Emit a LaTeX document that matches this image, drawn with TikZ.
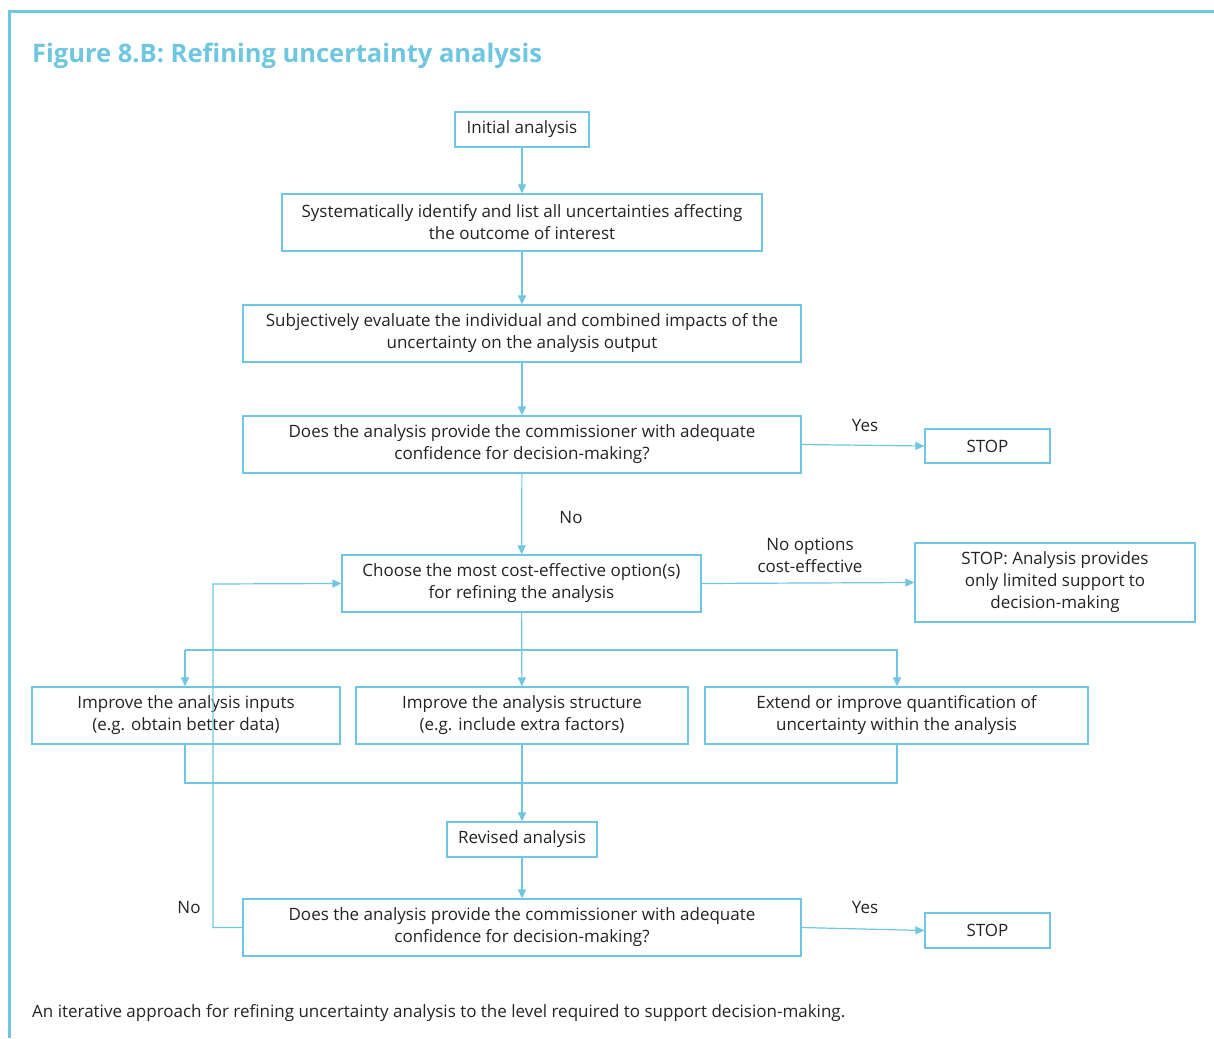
\documentclass[tikz,border=0pt]{standalone}
\usepackage{fontspec}
\setmainfont{Open Sans}
\usetikzlibrary{arrows.meta}
\definecolor{blu}{RGB}{110,198,224}
\definecolor{txt}{RGB}{35,35,35}
\begin{document}
\begin{tikzpicture}[x=1pt,y=-1pt,
  box/.style={draw=blu,line width=1.3pt,rectangle,inner sep=0pt,align=center,text=txt,
    font=\fontsize{17pt}{22pt}\selectfont},
  lbl/.style={text=txt,align=center,font=\fontsize{17pt}{22pt}\selectfont,inner sep=0pt},
  conn/.style={draw=blu,line width=1.2pt},
  arr/.style={conn,-{Triangle[length=9pt,width=8pt]}}]
\useasboundingbox (0,0) rectangle (1214,1038);
% frame
\draw[blu,line width=3pt] (1214,12) -- (9.5,12) -- (9.5,1038);
\node[anchor=west,text=blu,inner sep=0pt,font=\fontsize{25.5pt}{30pt}\selectfont\bfseries] (title) at (32,56) {Figure 8.B: Refining uncertainty analysis};
% boxes
\node[box,minimum width=134pt,minimum height=35pt] (init) at (522,129.5) {Initial analysis};
\node[box,minimum width=480pt,minimum height=57pt] (sys) at (522,222.5) {Systematically identify and list all uncertainties affecting\\the outcome of interest};
\node[box,minimum width=558pt,minimum height=57pt] (subj) at (522,333.5) {Subjectively evaluate the individual and combined impacts of the\\uncertainty on the analysis output};
\node[box,minimum width=558pt,minimum height=57pt] (q1) at (522,444.5) {Does the analysis provide the commissioner with adequate\\confidence for decision-making?};
\node[box,minimum width=125pt,minimum height=34pt] (stop1) at (987.5,446) {STOP};
\node[box,minimum width=359pt,minimum height=57pt] (choose) at (521.5,583.5) {Choose the most cost-effective option(s)\\for refining the analysis};
\node[box,minimum width=280pt,minimum height=79pt] (stop2) at (1055,582.5) {STOP: Analysis provides\\only limited support to\\decision-making};
\node[box,minimum width=308pt,minimum height=57pt] (inp) at (186,715.5) {Improve the analysis inputs\\(e.g. obtain better data)};
\node[box,minimum width=332pt,minimum height=57pt] (str) at (522,715.5) {Improve the analysis structure\\(e.g. include extra factors)};
\node[box,minimum width=383pt,minimum height=57pt] (ext) at (896.5,715.5) {Extend or improve quantification of\\uncertainty within the analysis};
\node[box,minimum width=150pt,minimum height=35pt] (rev) at (522,839.5) {Revised analysis};
\node[box,minimum width=558pt,minimum height=57pt] (q2) at (522,927.5) {Does the analysis provide the commissioner with adequate\\confidence for decision-making?};
\node[box,minimum width=125pt,minimum height=35pt] (stop3) at (987.5,930.5) {STOP};
% labels
\node[lbl] (yes1) at (865,426) {Yes};
\node[lbl] (no1) at (571,518) {No};
\node[lbl] (noopt) at (810,555) {No options\\cost-effective};
\node[lbl] (yes2) at (865,908) {Yes};
\node[lbl] (no2) at (189,908) {No};
\node[anchor=west,text=txt,inner sep=0pt,font=\fontsize{17pt}{22pt}\selectfont] (cap) at (32,1013) {An iterative approach for refining uncertainty analysis to the level required to support decision-making.};
% coordinates
\coordinate (splitL) at (185,650);
\coordinate (splitR) at (897,650);
\coordinate (mergeL) at (185,783);
\coordinate (mergeR) at (897,783);
\coordinate (loopB) at (213,927.5);
\coordinate (loopT) at (213,584);
% connectors
\draw[arr] (init) -- (sys);
\draw[arr] (sys) -- (subj);
\draw[arr] (subj) -- (q1);
\draw[arr] (q1.east) -- (stop1.west);
\draw[arr] (q1) -- (choose);
\draw[arr] (choose.east) -- (stop2.west);
\draw[arr] (choose) -- (str);
\draw[arr] (splitL) -- (splitR) -- (ext.north -| splitR);
\draw[arr] (splitL) -- (inp.north -| splitL);
\draw[conn] (inp.south -| mergeL) -- (mergeL) -- (mergeR) -- (ext.south -| mergeR);
\draw[arr] (str) -- (rev);
\draw[arr] (rev) -- (q2);
\draw[arr] (q2.east) -- (stop3.west);
\draw[arr] (q2.west) -- (loopB) -- (loopT) -- (choose.west);
\end{tikzpicture}
\end{document}
